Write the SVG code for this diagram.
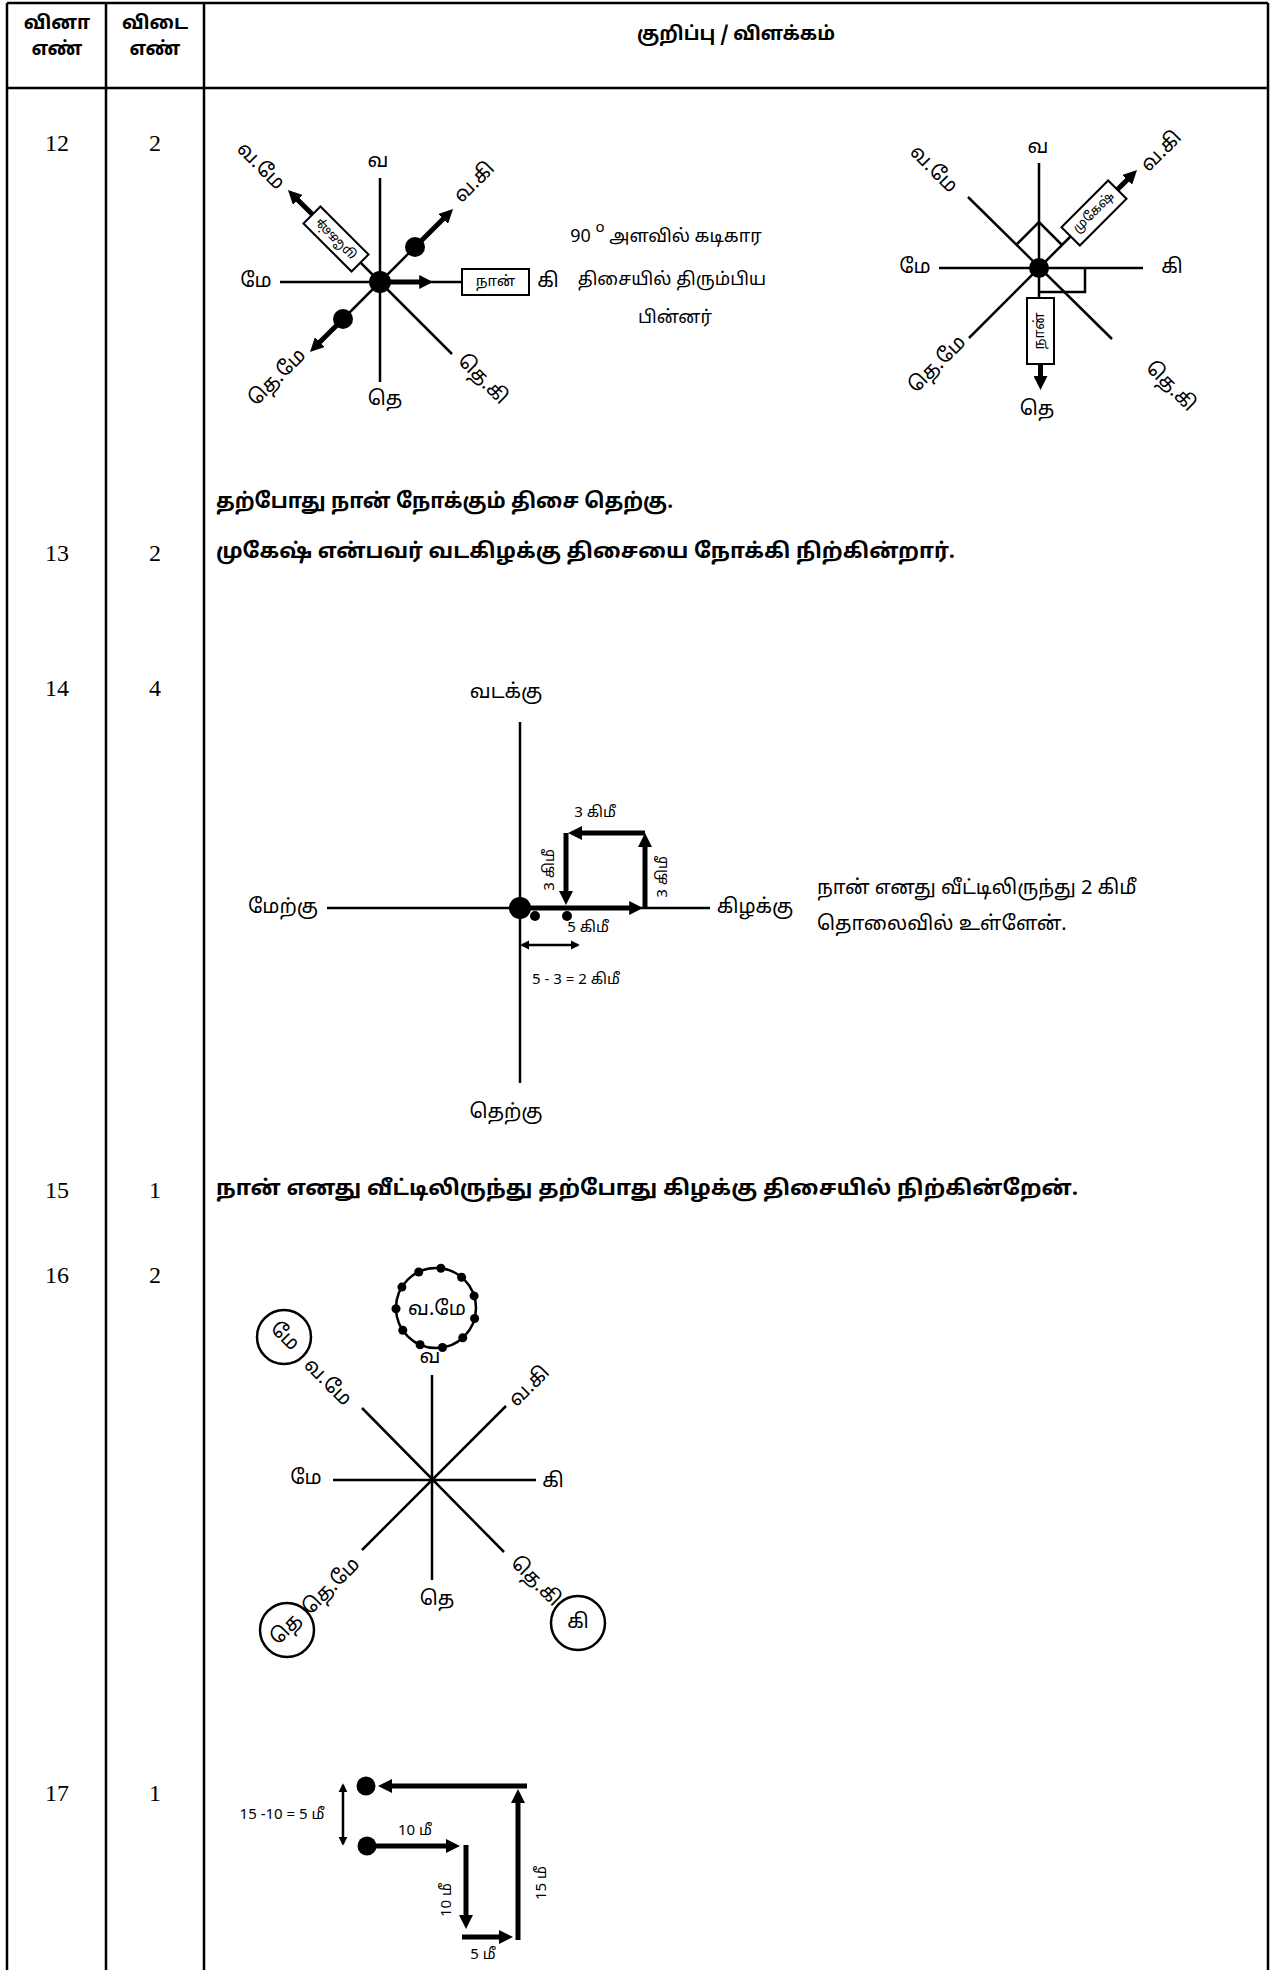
<svg xmlns="http://www.w3.org/2000/svg" width="1279" height="1970" viewBox="0 0 1279 1970">
<style>
.grid{stroke:#000;stroke-width:2.5;fill:none}
.ln{stroke:#000;stroke-width:2.5;fill:none}
.tha{stroke:#000;stroke-width:5;fill:none;marker-end:url(#ah)}
.box{stroke:#000;stroke-width:2;fill:#fff}
.mk{stroke:#000;stroke-width:2.5;fill:none}
text{font-family:"Noto Sans Tamil","Latha","Lohit Tamil","Noto Sans",sans-serif;fill:#000}
.hd{font-size:19px;font-weight:bold;text-anchor:middle;dominant-baseline:central}
.num{font-family:"Liberation Serif","Times New Roman",serif;font-size:24px;text-anchor:middle;dominant-baseline:central}
.body{font-size:21px;font-weight:bold;dominant-baseline:central}
.lb{font-size:20px;text-anchor:middle;dominant-baseline:central}
.mid{font-size:20px;text-anchor:middle;dominant-baseline:central}
.note{font-size:18px;text-anchor:middle;dominant-baseline:central}
.bx{font-size:13px;text-anchor:middle;dominant-baseline:central}
.sm{font-size:15px;text-anchor:middle;dominant-baseline:central}
</style>
<defs>
<marker id="ah" viewBox="0 0 10 10" refX="2" refY="5" markerWidth="14" markerHeight="14" markerUnits="userSpaceOnUse" orient="auto"><path d="M0,0L10,5L0,10z"/></marker>
<marker id="sa" viewBox="0 0 10 10" refX="8" refY="5" markerWidth="9" markerHeight="10" markerUnits="userSpaceOnUse" orient="auto-start-reverse"><path d="M0,0L10,5L0,10z"/></marker>
</defs>
<rect width="1279" height="1970" fill="#fff"/>

<g id="table">
<path class="grid" d="M7,3V1970M106,3V1970M204,3V1970M1268,3V1970M7,3H1268M7,88H1268"/>
<text class="hd" x="57" y="24">வினா</text>
<text class="hd" x="57" y="50">எண்</text>
<text class="hd" x="155" y="24">விடை</text>
<text class="hd" x="155" y="50">எண்</text>
<text class="hd" x="736" y="35">குறிப்பு / விளக்கம்</text>
</g>

<g id="numbers">
<text class="num" x="57" y="143">12</text><text class="num" x="155" y="143">2</text>
<text class="num" x="57" y="553">13</text><text class="num" x="155" y="553">2</text>
<text class="num" x="57" y="688">14</text><text class="num" x="155" y="688">4</text>
<text class="num" x="57" y="1190">15</text><text class="num" x="155" y="1190">1</text>
<text class="num" x="57" y="1275">16</text><text class="num" x="155" y="1275">2</text>
<text class="num" x="57" y="1793">17</text><text class="num" x="155" y="1793">1</text>
</g>

<g id="q12-left">
<path class="ln" d="M380,178V382M280,282H462M343,319L415,247M452,354L352,254"/>
<path class="tha" d="M380,282H422"/>
<path class="tha" d="M415,247L445.1,216.9"/>
<path class="tha" d="M343,319L317.9,344.1"/>
<path class="tha" d="M313,215L295.9,197.9"/>
<circle cx="380" cy="282" r="11"/>
<circle cx="415" cy="247" r="10"/>
<circle cx="343" cy="319" r="10"/>
<g transform="translate(336,239) rotate(45)"><rect class="box" x="-34" y="-12" width="68" height="24"/><text class="bx" transform="rotate(180)">முகேஷ்</text></g>
<rect class="box" x="462" y="269" width="67" height="26"/>
<text class="bx" x="495.5" y="282" style="font-size:15px">நான்</text>
<text class="lb" x="378" y="162">வ</text>
<text class="lb" x="256" y="282">மே</text>
<text class="lb" x="548" y="282">கி</text>
<text class="lb" x="385" y="400">தெ</text>
<text class="lb" transform="translate(260,167) rotate(45)">வ.மே</text>
<text class="lb" transform="translate(475,183) rotate(-45)">வ.கி</text>
<text class="lb" transform="translate(278,378) rotate(-45)">தெ.மே</text>
<text class="lb" transform="translate(482,380) rotate(45)">தெ.கி</text>
</g>

<g id="q12-note">
<text class="note" x="666" y="237">90 <tspan dy="-9" font-size="15">o</tspan><tspan dy="9"> அளவில் கடிகார</tspan></text>
<text class="note" x="672" y="280">திசையில் திரும்பிய</text>
<text class="note" x="675" y="318">பின்னர்</text>
</g>

<g id="q12-right">
<path class="ln" d="M1039,163V298M939,268H1143M968,197L1112,339M969,338L1071,236"/>
<path class="mk" d="M1016,245L1039,222L1062,245M1040,292H1085V268"/>
<circle cx="1039" cy="268" r="10"/>
<g transform="translate(1094,213) rotate(-45)"><rect class="box" x="-33" y="-13" width="66" height="26"/><text class="bx">முகேஷ்</text></g>
<path class="tha" d="M1117,190L1129.1,177.9"/>
<rect class="box" x="1027" y="298" width="27" height="66"/>
<text class="bx" transform="translate(1040.5,331) rotate(-90)" style="font-size:14px">நான்</text>
<path class="tha" d="M1040.5,364V378.8"/>
<text class="lb" x="1038" y="148">வ</text>
<text class="lb" x="915" y="268">மே</text>
<text class="lb" x="1172" y="268">கி</text>
<text class="lb" x="1037" y="410">தெ</text>
<text class="lb" transform="translate(933,170) rotate(45)">வ.மே</text>
<text class="lb" transform="translate(1162,152) rotate(-45)">வ.கி</text>
<text class="lb" transform="translate(938,365) rotate(-45)">தெ.மே</text>
<text class="lb" transform="translate(1170,387) rotate(45)">தெ.கி</text>
</g>

<g id="sentences">
<text class="body" x="216" y="503" textLength="457" lengthAdjust="spacingAndGlyphs">தற்போது நான் நோக்கும் திசை தெற்கு.</text>
<text class="body" x="216" y="553" textLength="739" lengthAdjust="spacingAndGlyphs">முகேஷ் என்பவர் வடகிழக்கு திசையை நோக்கி நிற்கின்றார்.</text>
<text class="body" x="216" y="1190" textLength="862" lengthAdjust="spacingAndGlyphs">நான் எனது வீட்டிலிருந்து தற்போது கிழக்கு திசையில் நிற்கின்றேன்.</text>
</g>

<g id="q14">
<path class="ln" d="M520,722V1083M327,908H710"/>
<path class="tha" d="M520,908H632"/>
<path class="tha" d="M645,908V844.2"/>
<path class="tha" d="M645,833H579.2"/>
<path class="tha" d="M566,833V893.8"/>
<circle cx="520" cy="908" r="11"/>
<circle cx="535" cy="916" r="5"/>
<circle cx="567" cy="916" r="5"/>
<path class="ln" d="M522,945H578" style="marker-start:url(#sa);marker-end:url(#sa)"/>
<text class="lb" x="506" y="693">வடக்கு</text>
<text class="lb" x="283" y="908">மேற்கு</text>
<text class="lb" x="755" y="908">கிழக்கு</text>
<text class="lb" x="506" y="1113">தெற்கு</text>
<text class="sm" x="595" y="813">3 கிமீ</text>
<text class="sm" transform="translate(550,870) rotate(-90)">3 கிமீ</text>
<text class="sm" transform="translate(663,877) rotate(-90)">3 கிமீ</text>
<text class="sm" x="588" y="928">5 கிமீ</text>
<text class="sm" x="576" y="980">5 - 3 = 2 கிமீ</text>
<text class="mid" x="817" y="889" style="text-anchor:start">நான் எனது வீட்டிலிருந்து 2 கிமீ</text>
<text class="mid" x="817" y="925" style="text-anchor:start">தொலைவில் உள்ளேன்.</text>
</g>

<g id="q16">
<path class="ln" d="M432,1375V1580M333,1480H536M362,1408L504,1552M506,1406L362,1550"/>
<circle class="mk" cx="436" cy="1308" r="40"/>
<g id="q16-dots">
<circle cx="440.9" cy="1268.3" r="4.5"/><circle cx="461.6" cy="1277.2" r="4.5"/><circle cx="474.1" cy="1295.9" r="4.5"/>
<circle cx="474.6" cy="1318.5" r="4.5"/><circle cx="462.8" cy="1337.7" r="4.5"/><circle cx="442.5" cy="1347.5" r="4.5"/>
<circle cx="420.1" cy="1344.7" r="4.5"/><circle cx="402.8" cy="1330.3" r="4.5"/><circle cx="396" cy="1308.8" r="4.5"/>
<circle cx="401.9" cy="1287.1" r="4.5"/><circle cx="418.7" cy="1272" r="4.5"/>
</g>
<text class="lb" x="437" y="1310">வ.மே</text>
<circle class="mk" cx="284" cy="1337" r="27"/>
<text class="lb" transform="translate(284,1337) rotate(45)">மே</text>
<circle class="mk" cx="287" cy="1630" r="27"/>
<text class="lb" transform="translate(287,1630) rotate(-45)">தெ</text>
<circle class="mk" cx="578" cy="1623" r="27"/>
<text class="lb" x="578" y="1623">கி</text>
<text class="lb" x="430" y="1358">வ</text>
<text class="lb" x="306" y="1479">மே</text>
<text class="lb" x="553" y="1482">கி</text>
<text class="lb" x="437" y="1600">தெ</text>
<text class="lb" transform="translate(327,1383) rotate(45)">வ.மே</text>
<text class="lb" transform="translate(530,1387) rotate(-45)">வ.கி</text>
<text class="lb" transform="translate(332,1587) rotate(-45)">தெ.மே</text>
<text class="lb" transform="translate(535,1582) rotate(45)">தெ.கி</text>
</g>

<g id="q17">
<circle cx="366" cy="1786" r="9.5"/>
<circle cx="367" cy="1846" r="9.5"/>
<path class="tha" d="M527,1786H389.2"/>
<path class="tha" d="M518,1940V1800.2"/>
<path class="tha" d="M367,1846H448.8"/>
<path class="tha" d="M466,1845V1917.8"/>
<path class="tha" d="M462,1937H501.8"/>
<path class="ln" d="M343,1785V1844" style="marker-start:url(#sa);marker-end:url(#sa)"/>
<text class="sm" x="282" y="1815">15 -10 = 5 மீ</text>
<text class="sm" x="415" y="1831">10 மீ</text>
<text class="sm" transform="translate(447,1900) rotate(-90)">10 மீ</text>
<text class="sm" transform="translate(542,1883) rotate(-90)">15 மீ</text>
<text class="sm" x="483" y="1955">5 மீ</text>
</g>
</svg>
